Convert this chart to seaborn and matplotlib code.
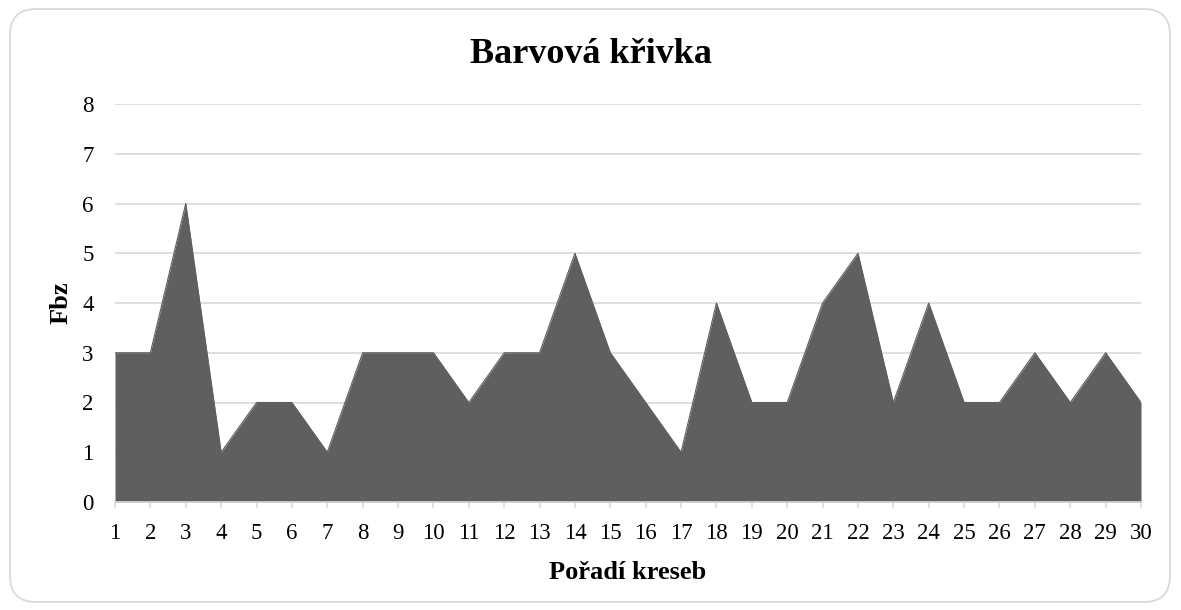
import matplotlib
matplotlib.use("Agg")
import matplotlib.pyplot as plt
from matplotlib.patches import FancyBboxPatch
import seaborn as sns
import pandas as pd

drawings = list(range(1, 31))
fbz = [3, 3, 6, 1, 2, 2, 1, 3, 3, 3, 2, 3, 3, 5, 3, 2, 1, 4, 2, 2, 4, 5, 2, 4, 2, 2, 3, 2, 3, 2]
y_ticks = [0, 1, 2, 3, 4, 5, 6, 7, 8]

title = "Barvová křivka"
xlabel = "Pořadí kreseb"
ylabel = "Fbz"

df = pd.DataFrame({"x": drawings, "y": fbz})

sns.set_theme(style="white")
plt.rcParams['font.family'] = ['Liberation Serif', 'DejaVu Serif']
plt.rcParams['text.color'] = 'black'
plt.rcParams['axes.labelcolor'] = 'black'
plt.rcParams['xtick.color'] = 'black'
plt.rcParams['ytick.color'] = 'black'

fig = plt.figure(figsize=(11.81, 6.10), dpi=100)
border = FancyBboxPatch((10 / 1181, 8 / 610), 1160 / 1181, 593 / 610,
                        boxstyle="round,pad=0,rounding_size=0.022",
                        transform=fig.transFigure, facecolor="none",
                        edgecolor="#d9d9d9", linewidth=1.3, mutation_aspect=1181 / 610,
                        zorder=-1)
fig.patches.append(border)

ax = fig.add_axes([115 / 1181, 1 - 502 / 610, (1141 - 115) / 1181, (502 - 104) / 610])
ax.set_facecolor("none")

area_color = "#5f5f5f"
sns.lineplot(data=df, x="x", y="y", ax=ax, color=area_color, linewidth=0.8)
ax.fill_between(df["x"], df["y"], 0, color=area_color, linewidth=0, zorder=2)

ax.set_xlim(1, 30)
ax.set_ylim(0, 8)
ax.set_yticks(y_ticks)
ax.set_xticks(drawings)
ax.yaxis.grid(True, color="#d9d9d9", linewidth=1.2)
ax.xaxis.grid(False)
ax.set_axisbelow(True)

for s in ["top", "right", "left"]:
    ax.spines[s].set_visible(False)
ax.spines["bottom"].set_color("#d9d9d9")
ax.spines["bottom"].set_linewidth(1.2)

ax.tick_params(axis="x", which="major", direction="out", length=4.3, width=1.2,
               color="#d9d9d9", labelcolor="black", labelsize=16.5, pad=11, bottom=True)
ax.tick_params(axis="y", which="major", length=0, labelsize=16.5, labelcolor="black", pad=19.5)
for lab in ax.get_yticklabels():
    lab.set_horizontalalignment("center")

ax.set_xlabel(xlabel, fontsize=19, fontweight="bold", labelpad=12, color="black")
ax.set_ylabel(ylabel, fontsize=19, fontweight="bold", labelpad=7, color="black")
fig.text(0.5, 1 - 63 / 610, title, ha="center", va="baseline",
         fontsize=26, fontweight="bold", color="black")

fig.savefig("out.png", dpi=100)
